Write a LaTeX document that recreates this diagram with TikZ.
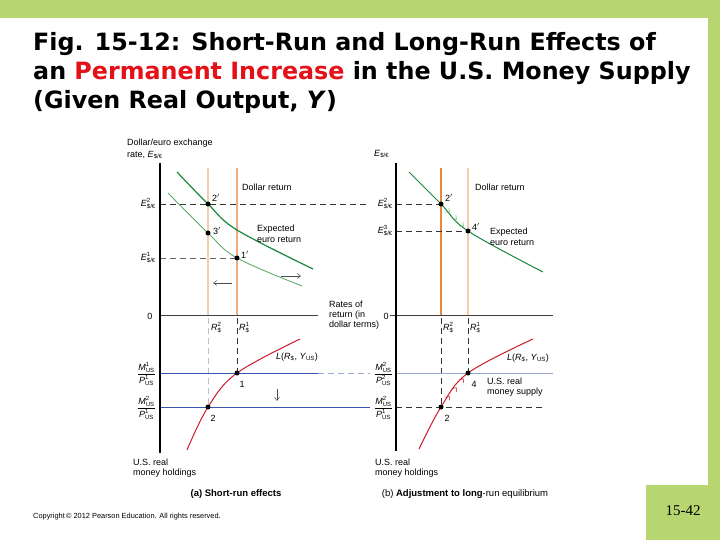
\documentclass[tikz,border=0pt]{standalone}
\usepackage{fontspec}
\usepackage{amsmath}
\setmainfont{Liberation Sans}
\newfontfamily\titlefont{DejaVu Sans}
\newfontfamily\pagefont{Liberation Serif}
\usetikzlibrary{arrows.meta,decorations.markings}
\definecolor{slidegreen}{RGB}{183,214,112}
\definecolor{titlered}{RGB}{228,18,24}
\definecolor{ecgreenD}{RGB}{25,135,60}
\definecolor{ecgreenL}{RGB}{95,175,110}
\definecolor{orangeS}{RGB}{235,135,60}
\definecolor{orangeP}{RGB}{246,205,172}
\definecolor{orangeM}{RGB}{240,172,128}
\definecolor{curvered}{RGB}{205,25,45}
\definecolor{msblue}{RGB}{55,85,175}
\definecolor{msblueL}{RGB}{150,168,210}
\newcommand{\Ebase}{\textit{E}$_{\text{\$/€}}$}
\newcommand{\Eex}[1]{\textit{E}$^{\text{#1}}_{\text{\$/€}}$}
\newcommand{\Rex}[1]{\textit{R}$^{\text{#1}}_{\text{\$}}$}
\newcommand{\MPfrac}[2]{$\dfrac{\textit{M}^{\text{#1}}_{\text{US}}}{\textit{P}^{\text{#2}}_{\text{US}}}$}
\newcommand{\Lfun}{\textit{L}(\textit{R}$_{\text{\$}}$, \textit{Y}$_{\text{US}}$)}
\begin{document}
\begin{tikzpicture}[x=1pt,y=-1pt,
  every node/.style={font=\fontsize{9}{10.5}\selectfont, inner sep=0pt},
  axis/.style={line width=1.6pt,black},
  zeroline/.style={line width=0.7pt,black!75},
  dashln/.style={line width=0.7pt,black!80,dash pattern=on 6pt off 4pt},
  dashlight/.style={line width=0.7pt,black!25,dash pattern=on 6pt off 4pt},
  dot/.style={circle,fill=black,minimum size=5pt,inner sep=0pt},
  caption/.style={font=\fontsize{9.5}{11}\selectfont},
  smallarrow/.style={-{Straight Barb[length=3.5pt,width=5pt]},line width=0.5pt}
]
\useasboundingbox (0,0) rectangle (720,540);
\fill[white] (0,0) rectangle (720,540);
% slide frame
\fill[slidegreen] (0,0) rectangle (720,18);
\fill[slidegreen] (708,0) rectangle (720,540);
\fill[slidegreen] (646,485) rectangle (720,540);
% title
\node[anchor=base west,font=\titlefont\bfseries\fontsize{23.8}{29}\selectfont] (t1) at (33,51) {Fig. 15-12: Short-Run and Long-Run Ef{}fects of};
\node[anchor=base west,font=\titlefont\bfseries\fontsize{23.8}{29}\selectfont] (t2) at (33,80) {an \textcolor{titlered}{Permanent Increase} in the U.S. Money Supply};
\node[anchor=base west,font=\titlefont\bfseries\fontsize{23.8}{29}\selectfont] (t3) at (33,109) {(Given Real Output, \textit{Y})};
% page number and copyright
\node[font=\pagefont\fontsize{15}{18}\selectfont] (pg) at (683,511) {15-42};
\node[anchor=west,font=\fontsize{7.4}{8}\selectfont] (copy) at (33,517) {Copyright\,\textcopyright\ 2012 Pearson Education. All rights reserved.};

% ================= LEFT PANEL =================
\coordinate (LAtop) at (160,163);
\coordinate (LAbot) at (160,453);
\coordinate (LZa) at (160,315);
\coordinate (LZb) at (318,315);
\coordinate (LR2t) at (208,168); \coordinate (LR2b) at (208,315);
\coordinate (LR1t) at (237,168); \coordinate (LR1b) at (237,315);
\draw[orangeP,line width=1.6pt] (LR2t) -- (LR2b);
\draw[orangeM,line width=1.6pt] (LR1t) -- (LR1b);
\coordinate (P2a) at (208,204);
\coordinate (P3a) at (208,233);
\coordinate (P1a) at (237,258);
\coordinate (P1) at (237,373);
\coordinate (P2) at (208,407);
\coordinate (LE2a) at (160,204); \coordinate (LE2b) at (370,204);
\coordinate (LE1a) at (160,258);
\draw[dashln] (LE2a) -- (LE2b);
\draw[dashln,black!60] (LE1a) -- (P1a);
\draw[ecgreenL,line width=0.9pt] plot[smooth,tension=0.6] coordinates {(168,193) (P3a) (P1a) (302,286)};
\draw[ecgreenD,line width=1.2pt] plot[smooth,tension=0.6] coordinates {(177,172) (P2a) (237,230) (313,269)};
\coordinate (ArRa) at (281,276); \coordinate (ArRb) at (301,276);
\coordinate (ArLa) at (232,283); \coordinate (ArLb) at (213,283);
\draw[smallarrow,black!70] (ArRa) -- (ArRb);
\draw[smallarrow,black!70] (ArLa) -- (ArLb);
\draw[zeroline] (LZa) -- (LZb);
\coordinate (LD1) at (237,318); \coordinate (LD2) at (208,318);
\draw[dashln] (LD1) -- (P1);
\draw[dashlight] (LD2) -- (P2);
\coordinate (LM1a) at (160,373); \coordinate (LM1b) at (318,373); \coordinate (LM1c) at (370,373);
\coordinate (LM2a) at (160,407); \coordinate (LM2b) at (370,407);
\draw[msblue,line width=0.9pt] (LM1a) -- (LM1b);
\draw[msblueL,line width=0.9pt,dash pattern=on 6pt off 4pt] (LM1b) -- (LM1c);
\draw[msblue,line width=0.9pt] (LM2a) -- (LM2b);
\draw[curvered,line width=1pt] plot[smooth,tension=0.6] coordinates {(187,450) (P2) (P1) (300,339)};
\coordinate (DnA) at (277,389); \coordinate (DnB) at (277,401);
\draw[smallarrow,black!70] (DnA) -- (DnB);
\draw[axis] (LAtop) -- (LAbot);
\node[dot] (d2a) at (P2a) {};
\node[dot] (d3a) at (P3a) {};
\node[dot] (d1a) at (P1a) {};
\node[dot] (d1) at (P1) {};
\node[dot] (d2) at (P2) {};
\node[anchor=west,align=left,font=\fontsize{9}{11.5}\selectfont] (ylabL) at (127,149) {Dollar/euro exchange\\rate, \Ebase};
\node[anchor=east] (e2L) at (156,204) {\Eex{2}};
\node[anchor=east] (e1L) at (156,258) {\Eex{1}};
\node[anchor=west] (drL) at (242,187) {Dollar return};
\node[anchor=west,align=left] (erL) at (257,234) {Expected\\euro return};
\node[anchor=west] (l2a) at (212,198) {2$'$};
\node[anchor=west] (l3a) at (213,231) {3$'$};
\node[anchor=west] (l1a) at (241,255) {1$'$};
\node (z0L) at (150,316) {0};
\node[anchor=west] (r2L) at (211,328) {\Rex{2}};
\node[anchor=west] (r1L) at (239,328) {\Rex{1}};
\node[anchor=west,align=left,font=\fontsize{9}{9.8}\selectfont] (rates) at (329,315) {Rates of\\return (in\\dollar terms)};
\node[anchor=west] (LfL) at (276,357) {\Lfun};
\node[anchor=east] (m1L) at (156,374) {\MPfrac{1}{1}};
\node[anchor=east] (m2L) at (156,408) {\MPfrac{2}{1}};
\node (n1) at (242,384) {1};
\node (n2) at (213,418) {2};
\node[anchor=west,align=left] (hlL) at (133,468) {U.S. real\\money holdings};
\node[caption] (capA) at (236,494) {\textbf{(a) Short-run effects}};

% ================= RIGHT PANEL =================
\coordinate (RAtop) at (396,163);
\coordinate (RAbot) at (396,451);
\coordinate (RZa) at (390,315);
\coordinate (RZb) at (553,315);
\coordinate (RR2t) at (441,168); \coordinate (RR2b) at (441,315);
\coordinate (RR1t) at (468,168); \coordinate (RR1b) at (468,315);
\draw[orangeS,line width=1.6pt] (RR2t) -- (RR2b);
\draw[orangeP,line width=1.6pt] (RR1t) -- (RR1b);
\coordinate (Q2a) at (441,204);
\coordinate (Q4a) at (468,231);
\coordinate (Q4) at (468,373);
\coordinate (Q2) at (441,407);
\coordinate (RE2a) at (396,204);
\coordinate (RE3a) at (396,231);
\draw[dashln] (RE2a) -- (Q2a);
\draw[dashln] (RE3a) -- (Q4a);
\draw[ecgreenD,line width=1pt] plot[smooth,tension=0.6] coordinates {(409,172) (Q2a) (Q4a) (543,272)};
\path[decoration={markings,
   mark=at position 0.32 with {\arrow[ecgreenL,line width=0.6pt]{Straight Barb[length=3pt,width=5pt]}},
   mark=at position 0.58 with {\arrow[ecgreenL,line width=0.6pt]{Straight Barb[length=3pt,width=5pt]}},
   mark=at position 0.84 with {\arrow[ecgreenL,line width=0.6pt]{Straight Barb[length=3pt,width=5pt]}}},
   postaction={decorate}] (Q2a) -- (Q4a);
\draw[zeroline] (RZa) -- (RZb);
\coordinate (RD2) at (441,318); \coordinate (RD1) at (468,318);
\draw[dashln] (RD2) -- (Q2);
\draw[dashln] (RD1) -- (Q4);
\coordinate (RM1a) at (396,373); \coordinate (RM1b) at (553,373);
\coordinate (RM2a) at (396,407); \coordinate (RM2b) at (545,407);
\draw[msblueL,line width=0.9pt] (RM1a) -- (RM1b);
\draw[dashln] (RM2a) -- (RM2b);
\draw[curvered,line width=1pt] plot[smooth,tension=0.6] coordinates {(419,449) (Q2) (Q4) (533,339)};
\path[decoration={markings,
   mark=at position 0.32 with {\arrow[curvered,line width=0.6pt]{Straight Barb[length=3pt,width=5pt]}},
   mark=at position 0.58 with {\arrow[curvered,line width=0.6pt]{Straight Barb[length=3pt,width=5pt]}},
   mark=at position 0.84 with {\arrow[curvered,line width=0.6pt]{Straight Barb[length=3pt,width=5pt]}}},
   postaction={decorate}] (Q2) -- (Q4);
\draw[axis] (RAtop) -- (RAbot);
\node[dot] (e2a) at (Q2a) {};
\node[dot] (e4a) at (Q4a) {};
\node[dot] (e4) at (Q4) {};
\node[dot] (e2) at (Q2) {};
\node[anchor=west] (ylabR) at (374,154) {\Ebase};
\node[anchor=east] (e2R) at (393,204) {\Eex{2}};
\node[anchor=east] (e3R) at (393,231) {\Eex{3}};
\node[anchor=west] (drR) at (475,187) {Dollar return};
\node[anchor=west,align=left] (erR) at (490,237) {Expected\\euro return};
\node[anchor=west] (k2a) at (445,198) {2$'$};
\node[anchor=west] (k4a) at (472,227) {4$'$};
\node (z0R) at (386,316) {0};
\node[anchor=west] (r2R) at (443,328) {\Rex{2}};
\node[anchor=west] (r1R) at (470,328) {\Rex{1}};
\node[anchor=west] (LfR) at (507,358) {\Lfun};
\node[anchor=east] (m1R) at (393,374) {\MPfrac{2}{2}};
\node[anchor=east] (m2R) at (393,408) {\MPfrac{2}{1}};
\node (k4) at (474,384) {4};
\node (k2) at (447,418) {2};
\node[anchor=west,align=left] (msR) at (487,387) {U.S. real\\money supply};
\node[anchor=west,align=left] (hlR) at (375,468) {U.S. real\\money holdings};
\node[caption] (capB) at (465,494) {(b) \textbf{Adjustment to long}-run equilibrium};
\end{tikzpicture}
\end{document}
